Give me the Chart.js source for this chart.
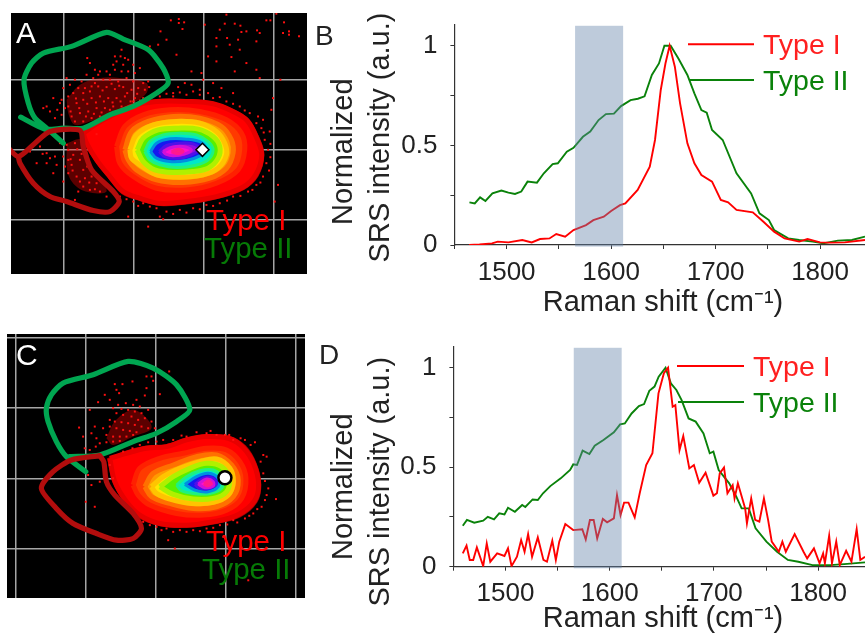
<!DOCTYPE html>
<html><head><meta charset="utf-8">
<script src="https://cdn.jsdelivr.net/npm/chart.js@4"></script>
<style>
html,body{margin:0;padding:0;background:#fff;overflow:hidden;width:865px;height:633px}
canvas{position:absolute;display:block}
.soft{filter:blur(0.5px)}
</style></head><body>
<canvas id="pA" class="soft" width="296" height="261" style="left:11px;top:13px"></canvas>
<canvas id="pB" class="soft" width="555" height="310" style="left:310px;top:10px"></canvas>
<canvas id="pC" class="soft" width="298" height="264" style="left:7px;top:334px"></canvas>
<canvas id="pD" class="soft" width="555" height="303" style="left:310px;top:330px"></canvas>
<script>
// ---------- Spectra (Raman shift, normalized intensity) ----------
const typeI_B_x=[1464,1474,1486,1491.5,1501.7,1515,1524,1532,1541,1547.5,1556,1564,1576,1583,1593,1600,1608.5,1613.6,1625.4,1637,1642,1647.5,1652,1656,1661,1666,1673,1679.7,1686.4,1696.6,1705,1712,1720,1735.6,1745.8,1756,1766,1780,1788,1800,1810,1823.7,1843];
const typeI_B_y=[0,.003,.008,.017,.013,.025,.013,.03,.033,.055,.042,.075,.1,.125,.142,.171,.2,.209,.276,.393,.527,.778,.911,1,.895,.711,.51,.41,.351,.318,.226,.214,.176,.164,.117,.067,.033,.017,.03,.013,.012,.013,.025];
const typeII_B_x=[1464.4,1469.5,1474.6,1479.7,1486.4,1495,1501.7,1508,1514,1520,1529,1535.6,1544,1549,1557.6,1564,1573,1580,1588,1595,1602.7,1609.5,1618.6,1625.6,1632,1639,1645.8,1651,1657,1664.4,1673,1679.7,1686.4,1691.5,1696.6,1706.8,1720,1734,1742,1751,1756,1769.5,1780,1793,1803,1817,1830.5,1843];
const typeII_B_y=[.214,.209,.239,.221,.259,.273,.263,.256,.268,.318,.313,.36,.406,.41,.468,.488,.543,.569,.627,.657,.659,.697,.727,.734,.746,.853,.911,1,1,.936,.853,.761,.677,.664,.577,.527,.36,.259,.159,.125,.075,.033,.025,.017,.008,.022,.025,.042];
const typeI_D_x=[1459,1462.6,1465.7,1469,1472.5,1478.6,1482,1485.4,1492,1499,1502.4,1505.8,1511,1515,1518.3,1521.7,1525.5,1531,1536.4,1539.8,1544.9,1548.3,1551.6,1557.4,1565,1573.7,1577,1581,1584.6,1588,1593.4,1597.5,1604,1607,1610.4,1613.8,1618,1624,1628.8,1635,1641,1646.8,1652,1656,1660.4,1663,1667,1670.6,1676.4,1680.8,1685.9,1692,1699.5,1702.9,1705.6,1709.7,1713,1718,1719.8,1723,1730,1731.7,1735.8,1739.6,1743.6,1748,1752,1755.5,1762.3,1765.7,1769,1777.5,1786,1789.5,1796,1801.4,1804.8,1806.5,1810.6,1813.3,1817.4,1820.8,1826.9,1832,1837,1840.5,1845];
const typeI_D_y=[.067,.106,.034,.034,.097,.003,.117,.025,.067,.054,.092,.003,.05,.134,.075,.164,.05,.147,.034,.025,.131,.034,.126,.214,.184,.188,.137,.235,.235,.142,.24,.223,.243,.36,.26,.322,.322,.248,.369,.511,.57,.871,.972,1,.804,.812,.586,.657,.494,.511,.422,.472,.357,.369,.469,.499,.369,.41,.343,.419,.293,.218,.343,.235,.226,.343,.235,.126,.075,.126,.075,.164,.075,.042,.092,.017,.067,.017,.156,.017,.126,.008,.08,.025,.189,.034,.05];
const typeII_D_x=[1459,1463,1470,1478.6,1483,1489,1494,1499,1502.4,1509,1516,1519,1526,1531,1536,1543,1553,1562,1565,1568.6,1574,1580.5,1585.6,1594,1604,1610,1614.5,1621,1628,1633,1638,1643,1647,1653.6,1658.7,1664,1669,1675.7,1682.5,1690,1696,1699.5,1704.6,1714.7,1721.5,1726.6,1733.4,1740,1750.4,1760.6,1771,1781,1794.6,1811.6,1825,1845];
const typeII_D_y=[.206,.235,.221,.231,.251,.238,.268,.263,.296,.276,.31,.3,.338,.335,.369,.405,.444,.486,.514,.511,.583,.566,.608,.637,.675,.715,.72,.77,.807,.817,.884,.905,.955,1,.921,.888,.837,.745,.729,.67,.57,.578,.486,.419,.352,.293,.293,.193,.126,.075,.034,.025,.008,.008,.013,.022];
const bandRange=[1565.5,1611.5];
const xTickValues=[1450,1500,1550,1600,1650,1700,1750,1800];
const xTickLabels=['1500','1600','1700','1800'];
const yTickValues=[0,.25,.5,.75,1];
const yTickLabels=['0','0.5','1'];

// ---------- Density plot A (channel units) ----------
const gridA_x=[192,402,612,822], gridA_y=[240,450,660];
const levelColors=['#d00000','#ff0000','#ff3a00','#ff9a00','#ffe600','#58f000','#00e8c8','#1418f0','#9010e0','#ff10d0','#ff2080'];
const edgeColors=['transparent','#e80000','#ff2000','#ff7000','#ffc400','#b0f000','#20f080','#0090e0','#5010e8','#d010d8','#ff1890'];
const A_outer=[[240,400],[285,368],[335,340],[400,312],[470,298],[560,298],[640,306],[705,330],[748,358],[778,410],[794,465],[776,530],[733,570],[650,598],[560,614],[480,618],[415,602],[365,582],[325,535],[285,485],[255,430]];
const A_red=[[250,400],[290,372],[340,345],[400,318],[470,305],[560,305],[640,312],[700,335],[742,362],[770,412],[786,465],[768,525],[728,563],[650,590],[560,605],[480,610],[420,595],[370,575],[330,530],[290,480],[260,430]];
const A_orangeRed=[[350,440],[375,380],[430,345],[510,330],[600,335],[680,360],[725,400],[735,450],[715,510],[650,550],[560,570],[470,565],[400,530],[360,490]];
const A_orange=[[375,450],[395,395],[445,365],[520,350],[600,355],[665,380],[695,420],[700,460],[680,505],[630,535],[550,548],[470,540],[410,510],[385,480]];
const A_yellow=[[390,450],[410,405],[460,375],[530,365],[600,370],[650,395],[675,430],[680,465],[655,505],[610,525],[540,532],[470,525],[420,495],[395,475]];
const A_green=[[412,450],[430,415],[475,390],[535,385],[595,388],[640,410],[660,440],[655,475],[625,505],[580,515],[520,518],[465,510],[430,485]];
const A_cyan=[[435,455],[450,425],[490,405],[540,400],[590,405],[625,425],[640,450],[625,480],[585,497],[530,503],[480,495],[450,480]];
const A_blue=[[452,455],[470,430],[510,417],[560,418],[605,428],[620,450],[600,468],[560,482],[510,485],[470,475]];
const A_violet=[[478,455],[500,437],[540,430],[580,432],[600,447],[575,465],[535,475],[495,470]];
const A_magenta=[[490,455],[515,443],[550,440],[575,450],[555,462],[520,468],[498,463]];
const A_hot=[[515,456],[535,448],[550,455],[535,462]];
const A_haze=[[[200,300],[240,255],[300,235],[360,235],[440,250],[440,280],[400,310],[340,340],[270,365],[225,375],[205,340]],[[200,430],[245,420],[280,510],[320,575],[245,570],[205,525]]];
const A_dots=[[680,45],[830,42],[513,62],[537,58],[553,68],[537,70],[800,62],[812,62],[853,68],[482,95],[548,88],[660,90],[675,72],[705,72],[722,78],[740,95],[725,97],[772,92],[780,100],[868,95],[868,105],[898,110],[850,100],[615,75],[650,115],[682,115],[715,120],[770,125],[720,150],[690,135],[650,140],[475,135],[500,120],[450,140],[415,135],[365,150],[530,165],[625,170],[650,185],[695,172],[740,190],[705,215],[770,210],[780,235],[842,240],[575,215],[605,220],[610,240],[555,250],[575,255],[640,250],[665,265],[600,270],[520,280],[535,262],[700,280],[820,295],[815,330],[790,360],[810,395],[835,555],[825,605],[445,680],[490,658],[385,650],[290,403],
[262,175],[270,190],[345,170],[362,170],[375,175],[385,180],[350,185],[370,195],[400,195],[420,205],[340,195],[285,210],[300,215],[320,215],[345,210],[365,215],[385,215],[405,220],[330,225],[295,225],[280,235],[260,225],[200,235],[225,240],[245,245],[310,240],[330,240],[355,245],[380,235],[400,245],[430,250],[445,245],[415,265],[435,270],[465,285],[190,265],[205,290],[220,280],[235,265],[255,265],[275,260],[295,260],[320,262],[345,268],[370,262],[395,270],[185,300],[160,295],[140,320],[150,335],[130,325],[185,345],[165,355],[180,310],[205,320],[230,310],[250,300],[275,295],[300,290],[325,295],[350,295],[375,290],[405,295],[430,295],[215,350],[240,340],[265,335],[290,325],[315,325],[340,320],[365,320],[390,320],
[210,255],[250,280],[270,275],[285,250],[308,272],[335,252],[358,258],[382,280],[412,282],[448,262],[228,296],[262,312],[288,308],[312,305],[338,308],[362,305],[392,305],[418,310],[212,335],[238,325],[258,350],[282,342],[305,338],[330,330],[225,365],[250,365],[275,355],[300,350],[195,325],[172,330],
[90,455],[120,440],[140,460],[165,470],[180,430],[110,490],[140,490],[170,495],[190,470],[205,450],[220,465],[225,430],[195,500],[215,495],[240,480],[250,510],[205,520],[230,530],[255,535],[275,530],[290,550],[250,560],[270,570],[235,575],[300,575],[320,590],[160,520],[190,545],[225,600],
[200,435],[212,478],[232,448],[245,462],[218,512],[262,500],[240,545],[268,548],[285,568],[205,480],[150,475],[128,462],
[400,305],[440,295],[480,290],[520,290],[560,285],[600,285],[640,295],[680,305],[720,320],[750,340],[770,370],[785,385],[795,420],[805,450],[800,490],[790,530],[770,555],[745,575],[700,590],[660,610],[620,615],[580,625],[540,630],[500,635],[470,625],[430,610],[400,605],[360,590],[340,570],
[420,302],[460,290],[500,282],[540,278],[580,275],[625,280],[660,292],[700,312],[735,332],[775,350],[792,398],[812,432],[812,472],[808,512],[782,548],[758,570],[722,588],[682,602],[640,618],[600,628],[560,638],[520,642],[480,650],[450,620],[415,618],[380,598]];
const A_whiteMarker=[[608,450]];
const A_gateGreen=[[190,430],[140,385],[105,355],[85,310],[72,240],[95,190],[130,160],[215,140],[320,98],[370,118],[445,150],[490,205],[505,250],[470,280],[400,320],[330,345],[250,385],[190,385],[135,388],[62,352]];
const A_gateRed=[[18,437],[55,470],[105,430],[150,395],[240,392],[250,440],[275,510],[340,575],[358,605],[330,635],[280,632],[200,605],[150,590],[100,550],[60,490],[55,470]];

// ---------- Density plot C (channel units) ----------
const gridC_x=[47,257,467,677,887], gridC_y=[40,250,462,672];
const C_outer=[[322,400],[375,378],[440,362],[500,358],[560,338],[620,328],[690,333],[738,362],[770,415],[784,478],[772,532],[722,576],[640,598],[560,608],[480,603],[415,578],[375,535],[338,470]];
const C_red=[[330,400],[380,385],[440,370],[500,365],[560,345],[620,335],[685,340],[730,368],[762,418],[776,478],[764,527],[716,568],[640,590],[560,600],[480,595],[420,570],[380,530],[345,470]];
const C_orangeRed=[[400,480],[420,430],[480,400],[550,385],[620,370],[680,375],[720,410],[738,460],[725,520],[680,555],[610,570],[530,565],[450,540],[415,510]];
const C_orange=[[435,485],[460,445],[520,420],[590,395],[650,390],[695,420],[715,465],[700,515],[650,545],[580,550],[510,535],[455,515]];
const C_yellow=[[455,485],[490,455],[540,430],[600,410],[650,402],[690,430],[700,470],[685,510],[640,532],[575,535],[510,522],[470,505]];
const C_green=[[480,485],[520,455],[570,430],[620,415],[665,425],[688,460],[680,500],[640,520],[580,522],[520,508]];
const C_cyan=[[530,480],[560,455],[600,437],[640,435],[668,460],[665,490],[630,505],[580,505],[545,497]];
const C_blue=[[555,478],[590,455],[625,445],[655,460],[655,485],[625,500],[585,495]];
const C_violet=[[585,478],[610,460],[635,458],[650,475],[630,490],[600,490]];
const C_magenta=[[595,477],[620,462],[640,470],[640,483],[615,488]];
const C_hot=[[612,476],[625,468],[635,476],[622,483]];
const C_haze=[[[320,340],[345,290],[395,255],[430,270],[455,310],[400,335],[340,360]]];
const C_dots=[[508,140],[455,155],[440,155],[460,168],[345,178],[368,178],[398,170],[440,190],[480,208],[435,212],[410,225],[350,195],[358,205],[315,210],[330,225],[295,232],[355,240],[378,235],[400,240],[420,245],[445,255],[270,255],[340,250],[365,252],[385,255],[405,260],[425,265],[350,265],[370,270],[395,275],[415,285],[435,280],[455,290],[465,310],[330,285],[345,290],[365,292],[385,295],[405,300],[425,305],[445,310],[285,305],[310,310],[330,305],[350,310],[370,315],[390,318],[410,322],[320,330],[340,335],[360,335],[380,335],[400,330],[300,355],[320,352],[340,350],[360,348],[238,308],[250,335],[275,325],[290,340],[270,375],[255,370],[288,365],[265,450],[275,480],[258,530],[285,545],[330,420],[340,460],[300,470],
[370,380],[420,360],[470,350],[520,345],[560,335],[620,325],[650,330],[675,330],[700,345],[735,345],[765,352],[790,390],[800,395],[790,445],[805,490],[828,522],[800,510],[785,545],[760,565],[735,580],[700,585],[660,600],[620,610],[580,615],[540,615],[500,610],[470,605],[430,590],[400,560],[505,645],[525,670],[745,765],[670,635],
[398,370],[445,352],[490,345],[545,332],[590,322],[632,318],[688,330],[722,340],[752,360],[782,410],[795,468],[795,525],[772,552],[748,572],[712,592],[682,598],[640,608],[600,618],[560,620],[520,620],[485,615],[450,600],[412,582],[385,548]];
const C_whiteMarker=[[675,458]];
const C_gateGreen=[[258,440],[200,395],[170,350],[145,290],[140,250],[155,210],[190,175],[280,150],[385,110],[460,130],[530,180],[570,255],[530,290],[470,325],[400,350],[300,390],[210,395]];
const C_gateRed=[[300,392],[215,405],[160,440],[125,490],[170,550],[220,595],[290,625],[350,645],[400,640],[425,610],[400,565],[345,510],[320,470],[312,410],[300,392]];

const RED='#ff0000', GREEN='#0a820a', SANS='"Liberation Sans", Arial, sans-serif';
const pts=a=>a.map(p=>({x:p[0],y:p[1]}));
const zip=(xs,ys)=>xs.map((x,i)=>({x,y:ys[i]}));

// Draws labels, legend keys and the shaded band; positions are page pixels.
const annot={id:'annot',
  afterDatasetsDraw(chart,_,o){
    if(o.band){
      const c=chart.ctx,x=chart.scales.x,y=chart.scales.y;
      const l=x.getPixelForValue(o.band[0]),r=x.getPixelForValue(o.band[1]);
      c.save();c.fillStyle='rgba(100,130,170,0.42)';
      c.fillRect(l,y.getPixelForValue(1.1),r-l,y.getPixelForValue(-0.008)-y.getPixelForValue(1.1));c.restore();
    }
  },
  afterDraw(chart,_,o){
    const c=chart.ctx,ox=o.ox,oy=o.oy;
    c.save();
    (o.lines||[]).forEach(l=>{c.strokeStyle=l.color;c.lineWidth=2;c.beginPath();c.moveTo(l.x1-ox,l.y-oy);c.lineTo(l.x2-ox,l.y-oy);c.stroke();});
    (o.texts||[]).forEach(t=>{
      c.save();c.translate(t.x-ox,t.y-oy);if(t.rot)c.rotate(t.rot);
      c.font=t.size+'px '+SANS;c.fillStyle=t.color;c.textAlign=t.align||'left';c.textBaseline='alphabetic';
      c.fillText(t.text,0,0);c.restore();
    });
    c.restore();
  }
};

const noPadX=s=>{s.paddingLeft=0;s.paddingRight=0;};
const noPadY=s=>{s.paddingTop=0;s.paddingBottom=0;};

function spectrum(id,ox,oy,h,axisX,axisTop,axisY,xMax,yMax,red,green,texts,lines){
  new Chart(document.getElementById(id),{
    type:'scatter',
    data:{datasets:[
      {label:'Type I',data:red,showLine:true,borderColor:RED,borderWidth:1.9,pointRadius:0,tension:0},
      {label:'Type II',data:green,showLine:true,borderColor:GREEN,borderWidth:1.9,pointRadius:0,tension:0}
    ]},
    plugins:[annot],
    options:{responsive:false,animation:false,
      layout:{autoPadding:false,padding:{top:axisTop-oy,left:0,right:0,bottom:0}},
      plugins:{legend:{display:false},tooltip:{enabled:false},annot:{ox,oy,band:bandRange,texts,lines}},
      scales:{
        x:{type:'linear',min:1450,max:xMax,
          afterBuildTicks:s=>{s.ticks=xTickValues.map(value=>({value}));},
          afterFit:s=>{s.height=oy+h-axisY;noPadX(s);},
          grid:{display:true,drawOnChartArea:false,drawTicks:true,tickLength:4,color:'#333'},
          border:{display:true,color:'#333',width:1.2},
          ticks:{autoSkip:false,maxRotation:0,includeBounds:false,padding:8,color:'#222',font:{family:SANS,size:26},
            callback:v=>xTickLabels.includes(String(v))?String(v):''}},
        y:{type:'linear',min:0,max:yMax,
          afterBuildTicks:s=>{s.ticks=yTickValues.map(value=>({value}));},
          afterFit:s=>{s.width=axisX-ox;noPadY(s);},
          grid:{display:true,drawOnChartArea:false,drawTicks:true,tickLength:4,color:'#333'},
          border:{display:true,color:'#333',width:1.2},
          ticks:{autoSkip:false,padding:13,color:'#222',font:{family:SANS,size:26},
            callback:v=>yTickLabels.includes(String(v))?String(v):''}}
      }}
  });
}

function density(id,ox,oy,xr,yr,gx,gy,levels,haze,dots,marker,markerStyle,markerBorder,gateG,gateR,texts){
  const ds=[];
  levels.forEach((poly,i)=>ds.push({data:pts(poly.concat([poly[0]])),showLine:true,fill:'shape',tension:0.35,
    backgroundColor:i===0?'rgba(200,0,0,0.8)':levelColors[i],borderColor:edgeColors[i],borderWidth:i===0?0:(i<6?5:3),pointRadius:0}));
  haze.forEach(poly=>ds.push({data:pts(poly.concat([poly[0]])),showLine:true,fill:'shape',tension:0.35,
    backgroundColor:'rgba(255,0,0,0.36)',borderColor:'transparent',borderWidth:0,pointRadius:0}));
  ds.push({data:pts(dots),showLine:false,pointStyle:'rect',pointRadius:1.4,pointBackgroundColor:'#ff1010',pointBorderWidth:0});
  ds.push({data:pts(gateG),showLine:true,borderColor:'#00a651',borderWidth:5.2,tension:0.25,pointRadius:0,borderCapStyle:'round',borderJoinStyle:'round'});
  ds.push({data:pts(gateR),showLine:true,borderColor:'#b20d0d',borderWidth:5.2,tension:0.25,pointRadius:0,borderCapStyle:'round',borderJoinStyle:'round'});
  ds.push({data:pts(marker),showLine:false,pointStyle:markerStyle,pointRadius:6.5,pointBackgroundColor:'#fff',pointBorderColor:'#000',pointBorderWidth:markerBorder});
  ds.forEach((d,i)=>{d.order=ds.length-i;d.clip=false;});
  const gridOpts={color:'#a6a6a6',lineWidth:1.5,drawTicks:false,tickLength:0};
  new Chart(document.getElementById(id),{
    type:'scatter',data:{datasets:ds},plugins:[annot,{id:'bg',beforeDraw(c){c.ctx.fillStyle='#000';c.ctx.fillRect(0,0,c.width,c.height);}}],
    options:{responsive:false,animation:false,layout:{autoPadding:false,padding:0},
      plugins:{legend:{display:false},tooltip:{enabled:false},annot:{ox,oy,texts}},
      scales:{
        x:{type:'linear',min:xr[0],max:xr[1],afterBuildTicks:s=>{s.ticks=gx.map(value=>({value}));},afterFit:s=>{noPadX(s);s.height=0;},grid:gridOpts,border:{display:false},ticks:{display:false,padding:0}},
        y:{type:'linear',reverse:true,min:yr[0],max:yr[1],afterBuildTicks:s=>{s.ticks=gy.map(value=>({value}));},afterFit:s=>{noPadY(s);s.width=0;},grid:gridOpts,border:{display:false},ticks:{display:false,padding:0}}
      }}
  });
}

const TITLE_X='Raman shift (cm\u207B\u00B9)';
const rot=-Math.PI/2;

density('pA',11,13,[33,922],[40,822],gridA_x,gridA_y,
  [A_outer,A_red,A_orangeRed,A_orange,A_yellow,A_green,A_cyan,A_blue,A_violet,A_magenta,A_hot],A_haze,A_dots,A_whiteMarker,'rectRot',1.5,A_gateGreen,A_gateRed,
  [{text:'A',x:16,y:43,size:30,color:'#fff'},{text:'Type I',x:206,y:230,size:29.5,color:'#ff0000'},{text:'Type II',x:204,y:258,size:29.5,color:'#067a06'}]);

density('pC',7,334,[22,915],[28,818],gridC_x,gridC_y,
  [C_outer,C_red,C_orangeRed,C_orange,C_yellow,C_green,C_cyan,C_blue,C_violet,C_magenta,C_hot],C_haze,C_dots,C_whiteMarker,'circle',2.5,C_gateGreen,C_gateRed,
  [{text:'C',x:16,y:365,size:30,color:'#fff'},{text:'Type I',x:206,y:551,size:29.5,color:'#ff0000'},{text:'Type II',x:202,y:579,size:29.5,color:'#067a06'}]);

spectrum('pB',310,10,310,454.4,25,245,1843,1.104,zip(typeI_B_x,typeI_B_y),zip(typeII_B_x,typeII_B_y),
  [{text:'B',x:315,y:45,size:28,color:'#222'},
   {text:'Normalized',x:352,y:151.7,size:29,color:'#222',rot,align:'center'},
   {text:'SRS intensity (a.u.)',x:389,y:137.5,size:29,color:'#222',rot,align:'center'},
   {text:TITLE_X,x:663,y:311,size:29,color:'#222',align:'center'},
   {text:'Type I',x:763,y:54,size:28.5,color:'#ff2020'},
   {text:'Type II',x:763,y:90,size:28.5,color:'#0a820a'}],
  [{x1:688,x2:754,y:44.3,color:RED},{x1:689,x2:754,y:80,color:GREEN}]);

spectrum('pD',310,330,303,453.4,347,566.7,1845,1.104,zip(typeI_D_x,typeI_D_y),zip(typeII_D_x,typeII_D_y),
  [{text:'D',x:319,y:364,size:28,color:'#222'},
   {text:'Normalized',x:352,y:486.7,size:29,color:'#222',rot,align:'center'},
   {text:'SRS intensity (a.u.)',x:389,y:481.7,size:29,color:'#222',rot,align:'center'},
   {text:TITLE_X,x:663,y:627,size:29,color:'#222',align:'center'},
   {text:'Type I',x:753,y:376,size:28.5,color:'#ff2020'},
   {text:'Type II',x:753,y:412,size:28.5,color:'#0a820a'}],
  [{x1:677,x2:744,y:366,color:RED},{x1:678,x2:744,y:402,color:GREEN}]);
</script>
</body></html>
